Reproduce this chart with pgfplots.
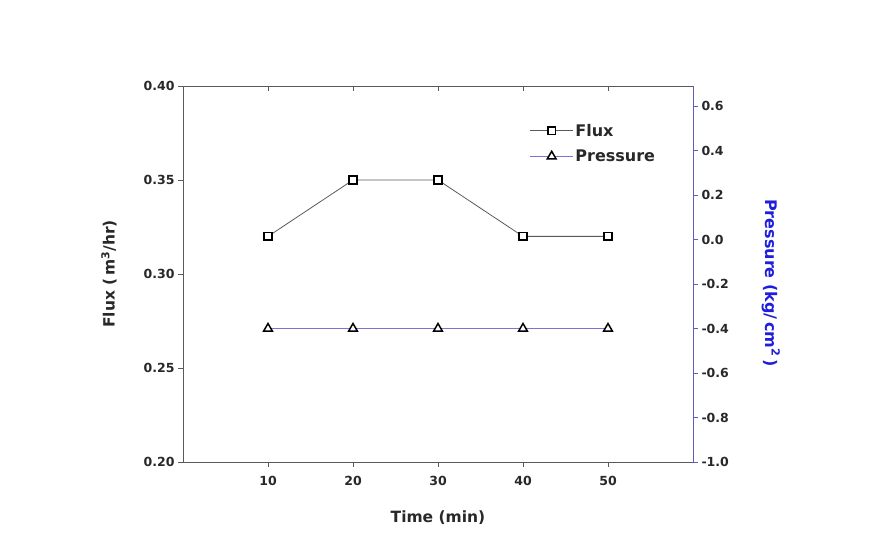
\documentclass[border=0pt]{standalone}
\usepackage{pgfplots}
\pgfplotsset{compat=1.18}
\usepackage{fontspec}
\setmainfont{DejaVu Sans}
\definecolor{axgray}{RGB}{90,90,90}
\definecolor{txt}{RGB}{40,40,40}
\definecolor{presblue}{RGB}{125,115,215}
\definecolor{raxis}{RGB}{95,95,185}
\definecolor{rlabel}{RGB}{30,30,220}
\begin{document}
\begin{tikzpicture}[x=1pt,y=1pt]
\path (0,0) rectangle (870,543);
\begin{axis}[
  at={(183pt,81pt)}, anchor=south west,
  scale only axis, width=510pt, height=376pt,
  xmin=0, xmax=60, ymin=0.20, ymax=0.40,
  axis y line*=left, axis x line*=bottom,
  axis line style={axgray, line width=0.9pt},
  xtick={10,20,30,40,50}, xticklabels={10,20,30,40,50},
  ytick={0.20,0.25,0.30,0.35,0.40}, yticklabels={0.20,0.25,0.30,0.35,0.40},
  x tick style={axgray, line width=0.8pt},
  y tick style={axgray, line width=0.8pt},
  xtick align=outside,
  ytick align=outside,
  major tick length=5pt,
  tick label style={font=\fontsize{12.5}{14}\selectfont\bfseries, text=txt},
  xticklabel style={yshift=-6pt},
  xlabel={Time (min)},
  ylabel={Flux (\,m\textsuperscript{3}/hr)},
  label style={font=\fontsize{15.5}{18}\selectfont\bfseries, text=txt},
  xlabel style={yshift=-18pt},
  ylabel style={yshift=20pt},
  legend style={draw=none, fill=none, at={(0.674,0.91)}, anchor=north west,
    font=\fontsize{16}{18}\selectfont\bfseries, text=txt, row sep=8pt,
    /tikz/every even column/.append style={column sep=2pt}},
  legend cell align=left,
  legend image code/.code={\draw[mark repeat=2,mark phase=2] plot coordinates {(0cm,0cm) (0.75cm,0cm) (1.5cm,0cm)};},
  clip=false,
]
\addplot[color=axgray, line width=0.8pt, mark=square*, mark size=3.8pt,
  mark options={fill=white, draw=black, line width=1.5pt}]
  coordinates {(10,0.32) (20,0.35) (30,0.35) (40,0.32) (50,0.32)};
\addlegendentry{Flux}
\addlegendimage{color=presblue, line width=0.8pt, mark=triangle*, mark size=5pt,
  mark options={fill=white, draw=black, line width=1.5pt}}
\addlegendentry{Pressure}
\end{axis}
\begin{axis}[
  at={(183pt,81pt)}, anchor=south west,
  scale only axis, width=510pt, height=376pt,
  xmin=0, xmax=60, ymin=-1.0, ymax=0.69,
  axis y line*=right, axis x line*=top,
  y axis line style={raxis, line width=0.9pt},
  x axis line style={axgray, line width=0.9pt},
  xtick={10,20,30,40,50}, xticklabels={},
  xtick align=inside,
  x tick style={axgray, line width=0.8pt},
  ytick={-1.0,-0.8,-0.6,-0.4,-0.2,0.0,0.2,0.4,0.6},
  yticklabels={-1.0,-0.8,-0.6,-0.4,-0.2,0.0,0.2,0.4,0.6},
  ytick align=outside, major tick length=5pt,
  y tick style={raxis, line width=0.8pt},
  tick label style={font=\fontsize{12.5}{14}\selectfont\bfseries, text=txt},
  clip=false,
]
\addplot[color=presblue, line width=0.8pt, mark=triangle*, mark size=5pt,
  mark options={fill=white, draw=black, line width=1.5pt}]
  coordinates {(10,-0.4) (20,-0.4) (30,-0.4) (40,-0.4) (50,-0.4)};
\end{axis}
\node[rotate=-90, font=\fontsize{16}{18}\selectfont\bfseries, text=rlabel] at (771,260) {Pressure (kg/\,cm\textsuperscript{2}\,)};
\end{tikzpicture}
\end{document}
